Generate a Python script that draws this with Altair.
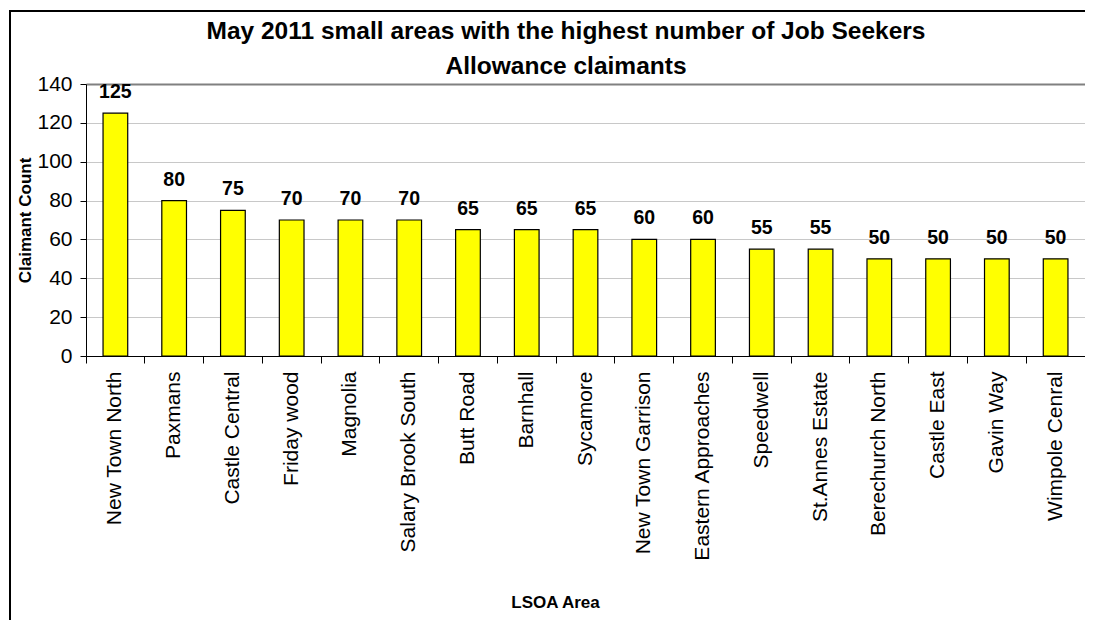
import altair as alt
import pandas as pd

areas = ["New Town North", "Paxmans", "Castle Central", "Friday wood", "Magnolia",
         "Salary Brook South", "Butt Road", "Barnhall", "Sycamore", "New Town Garrison",
         "Eastern Approaches", "Speedwell", "St.Annes  Estate", "Berechurch North",
         "Castle East", "Gavin Way", "Wimpole Cenral"]
counts = [125, 80, 75, 70, 70, 70, 65, 65, 65, 60, 60, 55, 55, 50, 50, 50, 50]
title_lines = ["May 2011 small areas with the highest number of Job Seekers",
               "Allowance claimants"]
y_ticks = [0, 20, 40, 60, 80, 100, 120, 140]

df = pd.DataFrame({"area": areas, "count": counts})

W = 999
H = 272
FONT = "Liberation Sans"

x = alt.X("area:N", sort=None, title="LSOA Area",
          scale=alt.Scale(paddingInner=0, paddingOuter=0),
          axis=alt.Axis(labelAngle=-90, labelFontSize=21, labelPadding=8,
                        labelColor="black", labelFont=FONT, labelLimit=0,
                        labelOverlap=False,
                        tickSize=7, tickColor="black", domainColor="black",
                        bandPosition=0, grid=False,
                        titleFontSize=17, titleFont=FONT, titleFontWeight="bold",
                        titleX=469, titleY=246, titleBaseline="middle",
                        titleAnchor="start", titleAlign="center", titleColor="black"))
y = alt.Y("count:Q", title="Claimant Count",
          scale=alt.Scale(domain=[0, 140], nice=False),
          axis=alt.Axis(values=y_ticks,
                        labelOverlap=False, labelFlush=False,
                        labelFontSize=21, labelPadding=8, labelColor="black",
                        labelFont=FONT, tickSize=6, tickColor="black",
                        domainColor="black",
                        gridColor={"condition": {"test": "datum.value === 140", "value": "#808080"},
                                   "value": "#c8c8c8"},
                        gridWidth={"condition": {"test": "datum.value === 140", "value": 2},
                                   "value": 1},
                        titleFontSize=17, titleFont=FONT, titleFontWeight="bold",
                        titleColor="black", titleAngle=-90, titleX=-61, titleY=136,
                        titleAlign="center", titleBaseline="middle"))

base = alt.Chart(df)

bars = base.mark_bar(color="#FFFF00", stroke="black", strokeWidth=1.2,
                     width=alt.RelativeBandSize(0.42)).encode(x=x, y=y)

labels = base.mark_text(font=FONT, fontSize=19.5, fontWeight="bold", color="black",
                        baseline="alphabetic", dy=-15).encode(
    x=x, y=y, text="count:Q")

border = base.mark_rect(fill=None, stroke="black", strokeWidth=1.5, clip=False).encode(
    x=alt.value(-76), x2=alt.value(W + 60), y=alt.value(-73), y2=alt.value(H + 400))

title = alt.Chart(pd.DataFrame({"t": [0]})).mark_text(
    text=title_lines, font=FONT, fontSize=24.5, fontWeight="bold", color="black",
    align="center", baseline="alphabetic", lineHeight=35).encode(
    x=alt.value(480), y=alt.value(-45))

chart = alt.layer(border, bars, labels, title).properties(
    width=W, height=H,
    autosize=alt.AutoSizeParams(type="none"),
    padding={"left": 78, "top": 76, "right": 0, "bottom": 264},
).configure_view(stroke="#808080", strokeWidth=1.5).configure(background="white")

chart.save("out.html", embed_options={"renderer": "svg", "actions": False})
